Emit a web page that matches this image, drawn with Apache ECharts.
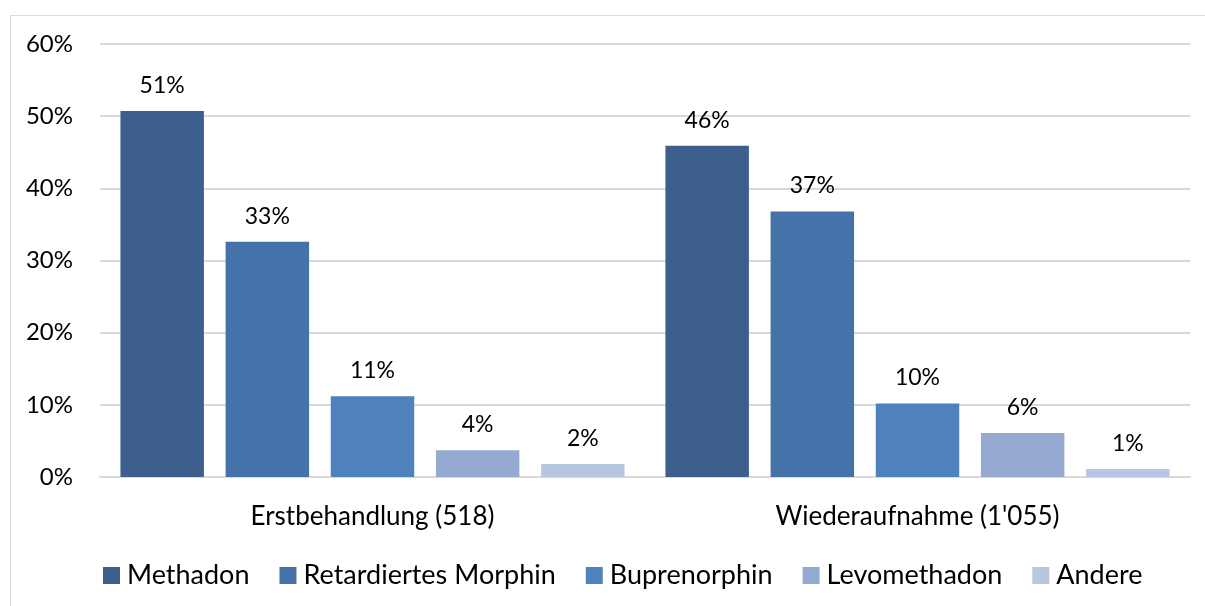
<!DOCTYPE html>
<html>
<head>
<meta charset="utf-8">
<script src="https://cdn.jsdelivr.net/npm/echarts@6/dist/echarts.min.js"></script>
<style>
  html, body { margin: 0; padding: 0; background: #fff; }
  #frame {
    position: absolute; left: 10px; top: 15px; width: 1200px; height: 600px;
    border: 1px solid #d9d9d9; box-sizing: border-box;
  }
  #myChart_bar { position: absolute; left: 0; top: 0; width: 1205px; height: 606px; }
</style>
</head>
<body>
<div id="frame"></div>
<div id="myChart_bar"></div>
<script>
// Kategorien
const categories = ['Erstbehandlung (518)', "Wiederaufnahme (1'055)"]
// Werte in %
const methadon = [50.7, 45.9]
const retardiertesMorphin = [32.6, 36.8]
const buprenorphin = [11.2, 10.2]
const levomethadon = [3.7, 6.1]
const andere = [1.8, 1.1]
const seriesNames = ['Methadon', 'Retardiertes Morphin', 'Buprenorphin', 'Levomethadon', 'Andere']
const seriesValues = [methadon, retardiertesMorphin, buprenorphin, levomethadon, andere]
const colors = ['#3c5f8d', '#4573a9', '#4f81bd', '#95aad1', '#b9c6e1']

const fontFamily = 'Lato, "Noto Sans", sans-serif'

let myChart = echarts.init(document.getElementById('myChart_bar'))
myChart.setOption({
  animation: false,
  color: colors,
  textStyle: { fontFamily: fontFamily },
  grid: {
    left: 100,
    right: 15,
    top: 44,
    bottom: 129,
    containLabel: false,
  },
  legend: {
    data: seriesNames,
    bottom: 12,
    left: 98,
    itemWidth: 17,
    itemHeight: 17,
    itemGap: 30,
    icon: 'rect',
    textStyle: { fontSize: 27, color: '#000', fontFamily: fontFamily, padding: [0, 0, 0, 2] },
  },
  xAxis: {
    type: 'category',
    data: categories,
    axisLine: { show: true, lineStyle: { color: '#d9d9d9', width: 2 } },
    axisTick: { show: false },
    axisLabel: { fontSize: 26, color: '#000', margin: 27 },
  },
  yAxis: {
    type: 'value',
    min: 0,
    max: 60,
    interval: 10,
    axisLine: { show: false },
    axisTick: { show: false },
    splitLine: { lineStyle: { color: '#d9d9d9', width: 2 } },
    axisLabel: {
      fontSize: 24,
      color: '#000',
      margin: 27,
      formatter: (v) => v + '%',
    },
  },
  series: seriesValues.map((vals, i) => ({
    name: seriesNames[i],
    type: 'bar',
    data: vals,
    barGap: '26%',
    barCategoryGap: '7.5%',
    label: {
      show: true,
      position: 'top',
      distance: 14,
      fontSize: 23,
      color: '#000',
      formatter: (p) => Math.round(p.value) + '%',
    },
  })),
})
</script>
</body>
</html>
